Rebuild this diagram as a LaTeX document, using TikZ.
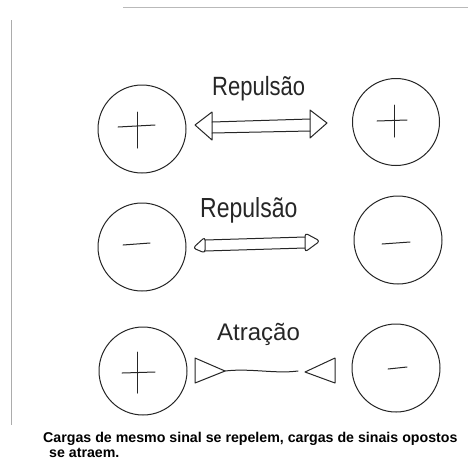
\documentclass[tikz,border=0pt]{standalone}
\usepackage{fontspec}
\setmainfont{Liberation Sans}
\usetikzlibrary{calc}
\begin{document}
\begin{tikzpicture}[x=1pt,y=-1pt,
  pen/.style={draw=black!85,line width=1pt,line join=round,line cap=round},
  charge/.style={circle,pen,minimum size=88pt,inner sep=0pt},
  hand/.style={anchor=base west,inner sep=0pt,text=black!85},
  caption/.style={anchor=base west,inner sep=0pt,font=\bfseries\fontsize{14.2}{14}\selectfont}]
\useasboundingbox[fill=white] (0,0) rectangle (468,459);
% frame remnants
\draw[gray!55,line width=0.8pt] (123,7) -- (468,7);
\draw[gray!65,line width=0.8pt] (11,20) -- (11,425);
% charges
\node[charge] (p1) at (142,129) {};
\node[charge,minimum size=87pt] (p2) at (396,122) {};
\node[charge] (m1) at (142,247) {};
\node[charge] (m2) at (398,240) {};
\node[charge] (p3) at (143,371) {};
\node[charge] (m3) at (396,368) {};
% signs
\draw[pen] (118,127) -- (155,125);
\draw[pen] (137,112) -- (137,148);
\draw[pen] (377,121) -- (407,120);
\draw[pen] (394,105) -- (394,137);
\draw[pen] (123,245) -- (150,243);
\draw[pen] (382,244) -- (410,242);
\draw[pen] (122,373) -- (155,372);
\draw[pen] (137,352) -- (137,393);
\draw[pen] (388,369) -- (407,367);
% labels
\node[hand,font=\fontsize{22}{22}\selectfont] (l1) at (212,95) {\scalebox{1}[1.2]{Repulsão}};
\node[hand,font=\fontsize{23}{23}\selectfont] (l2) at (200,217) {\scalebox{1}[1.2]{Repulsão}};
\node[hand,font=\fontsize{24}{24}\selectfont] (l3) at (217,340) {Atração};
% row 1: double arrow
\coordinate (a1l) at (195,125);
\coordinate (a1r) at (327,123);
\draw[pen] (a1l) -- (212,112) -- (212,140) -- cycle;
\draw[pen] (212,122) -- (310,119);
\draw[pen] (212,133) -- (310,131);
\draw[pen] (a1r) -- (310,110) -- (310,138) -- cycle;
% row 2: double arrow
\coordinate (a2l) at (193,248);
\coordinate (a2r) at (320,241);
\draw[pen,rounded corners=3pt] (a2l) -- (205,237) -- (205,253) -- cycle;
\draw[pen] (205,240) -- (305,237);
\draw[pen] (205,251) -- (305,248);
\draw[pen,rounded corners=3pt] (a2r) -- (305,233) -- (305,252) -- cycle;
% row 3: attraction
\coordinate (a3l) at (225,371);
\coordinate (a3r) at (305,372);
\draw[pen] (a3l) -- (195,358) -- (195,383) -- cycle;
\draw[pen] (a3l) .. controls (250,368) and (275,374) .. (298,371);
\draw[pen] (a3r) -- (335,358) -- (335,383) -- cycle;
% caption
\node[caption] (c1) at (43,442) {Cargas de mesmo sinal se repelem, cargas de sinais opostos};
\node[caption] (c2) at (49,457) {se atraem.};
\end{tikzpicture}
\end{document}
